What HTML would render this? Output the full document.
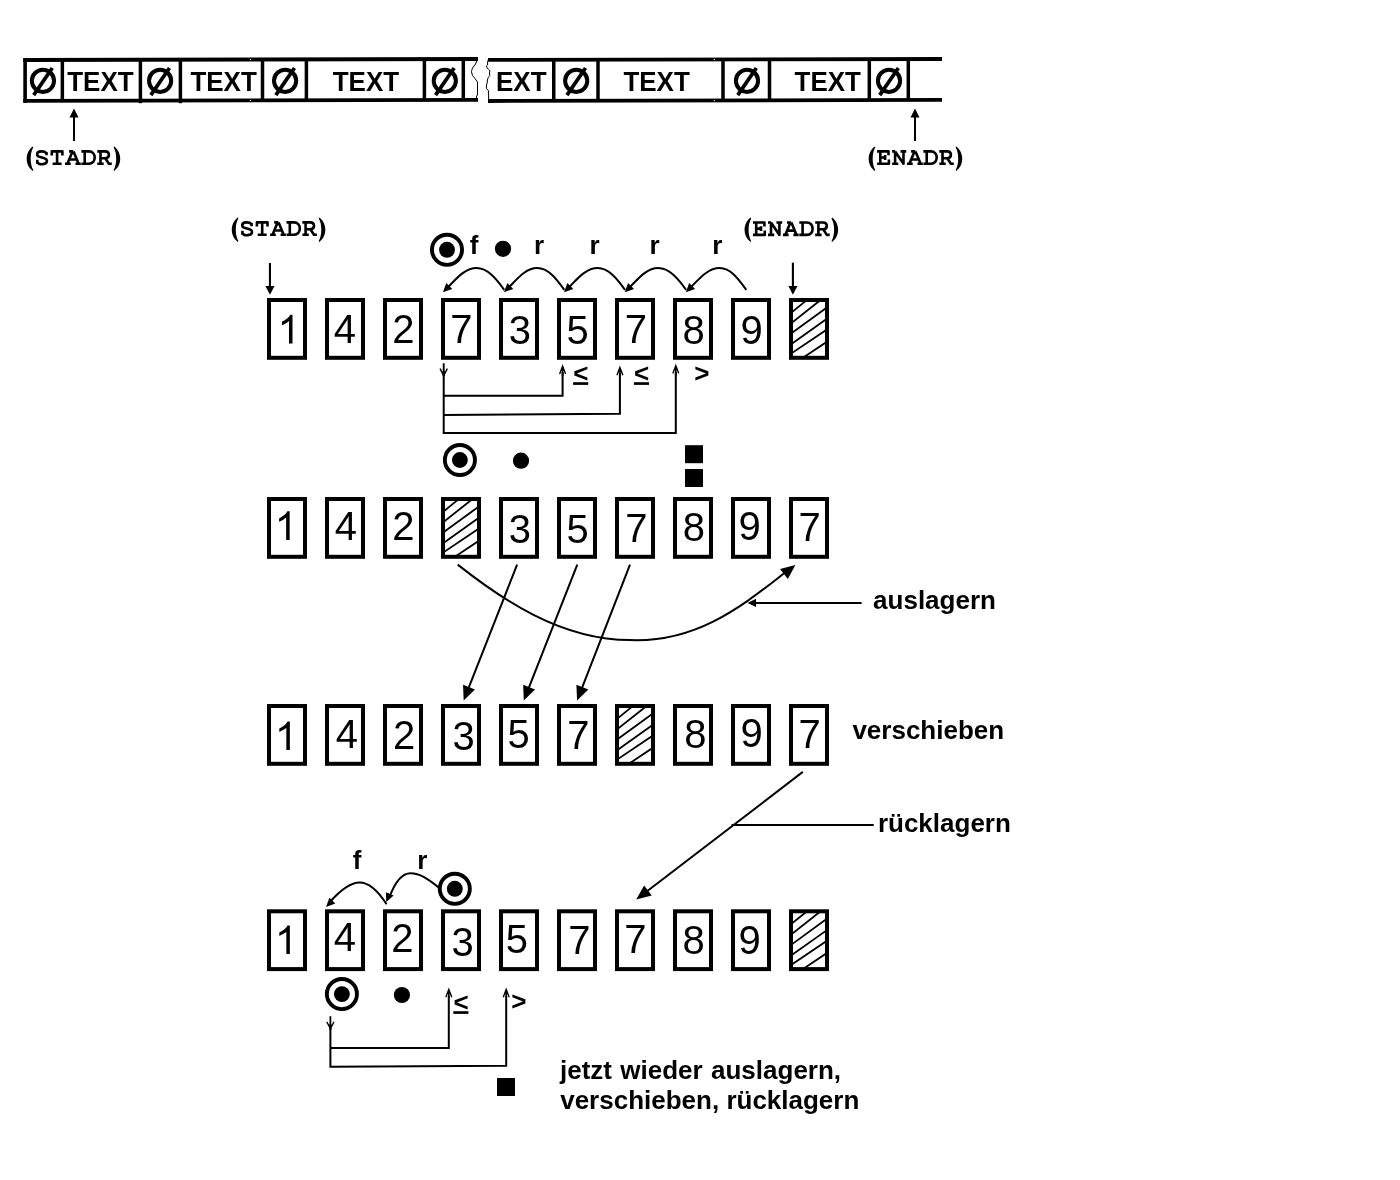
<!DOCTYPE html>
<html><head><meta charset="utf-8"><title>diagram</title>
<style>html,body{margin:0;padding:0;background:#fff;}svg{display:block;will-change:transform;}text{fill:#000;}</style></head>
<body>
<svg width="1400" height="1180" viewBox="0 0 1400 1180">
<rect width="1400" height="1180" fill="#fff"/>
<polygon points="23.30,58.05 478.00,56.90 478.00,61.10 23.30,61.90" fill="#000"/>
<polygon points="23.30,98.90 478.00,98.00 478.00,101.80 23.30,102.70" fill="#000"/>
<polygon points="23.30,58.60 23.90,58.05 26.90,58.05 26.90,102.70 23.30,102.70" fill="#000"/>
<line x1="62.35" y1="59.00" x2="62.35" y2="101.00" stroke="#000" stroke-width="3.5" />
<line x1="140.40" y1="59.00" x2="140.40" y2="103.20" stroke="#000" stroke-width="3.5" />
<line x1="180.40" y1="59.00" x2="180.40" y2="103.20" stroke="#000" stroke-width="3.5" />
<line x1="262.50" y1="59.00" x2="262.50" y2="101.00" stroke="#000" stroke-width="3.5" />
<line x1="306.40" y1="59.00" x2="306.40" y2="101.00" stroke="#000" stroke-width="3.5" />
<line x1="424.40" y1="59.00" x2="424.40" y2="101.00" stroke="#000" stroke-width="3.5" />
<line x1="463.30" y1="59.00" x2="463.30" y2="101.00" stroke="#000" stroke-width="3.5" />
<path d="M477.3,60 L475.5,64 L472.5,68 L471.4,71.5 L472.5,75.5 L475,78.5 L477.5,82 L477.5,95 L476.5,96 L476.5,98" stroke="#000" stroke-width="1" fill="none" />
<path d="M488.2,60 L487.6,62 L487.6,65 L486.4,66 L487.2,68 L488.6,69.5 L490,70.8 L489.4,73 L489.8,75.4 L488.3,77.5 L487.4,80 L487.2,83 L486.4,85 L486.4,88.6 L488.6,90.7 L488.6,101" stroke="#000" stroke-width="1" fill="none" />
<polygon points="488.00,58.00 942.00,57.00 942.00,60.90 488.00,61.80" fill="#000"/>
<polygon points="488.00,99.10 942.00,98.00 942.00,101.80 488.00,102.90" fill="#000"/>
<line x1="553.75" y1="59.00" x2="553.75" y2="101.00" stroke="#000" stroke-width="3.5" />
<line x1="598.00" y1="59.00" x2="598.00" y2="101.00" stroke="#000" stroke-width="3.5" />
<line x1="723.00" y1="59.00" x2="723.00" y2="101.00" stroke="#000" stroke-width="3.5" />
<line x1="769.50" y1="59.00" x2="769.50" y2="101.00" stroke="#000" stroke-width="3.5" />
<line x1="869.30" y1="59.00" x2="869.30" y2="101.00" stroke="#000" stroke-width="3.5" />
<line x1="908.30" y1="59.00" x2="908.30" y2="101.00" stroke="#000" stroke-width="3.5" />
<circle cx="42.95" cy="80.85" r="11.1" fill="none" stroke="#000" stroke-width="4"/>
<line x1="33.70" y1="95.10" x2="52.30" y2="68.00" stroke="#000" stroke-width="3.7" />
<circle cx="160.1" cy="80.85" r="11.1" fill="none" stroke="#000" stroke-width="4"/>
<line x1="150.85" y1="95.10" x2="169.45" y2="68.00" stroke="#000" stroke-width="3.7" />
<circle cx="285.1" cy="80.85" r="11.1" fill="none" stroke="#000" stroke-width="4"/>
<line x1="275.85" y1="95.10" x2="294.45" y2="68.00" stroke="#000" stroke-width="3.7" />
<circle cx="444.8" cy="80.85" r="11.1" fill="none" stroke="#000" stroke-width="4"/>
<line x1="435.55" y1="95.10" x2="454.15" y2="68.00" stroke="#000" stroke-width="3.7" />
<circle cx="576.2" cy="80.85" r="11.1" fill="none" stroke="#000" stroke-width="4"/>
<line x1="566.95" y1="95.10" x2="585.55" y2="68.00" stroke="#000" stroke-width="3.7" />
<circle cx="747.0" cy="80.85" r="11.1" fill="none" stroke="#000" stroke-width="4"/>
<line x1="737.75" y1="95.10" x2="756.35" y2="68.00" stroke="#000" stroke-width="3.7" />
<circle cx="889.0" cy="80.85" r="11.1" fill="none" stroke="#000" stroke-width="4"/>
<line x1="879.75" y1="95.10" x2="898.35" y2="68.00" stroke="#000" stroke-width="3.7" />
<text transform="translate(100.40,90.50) scale(1,1.035)" font-family='"Liberation Sans", sans-serif' font-size="26" font-weight="bold" text-anchor="middle" >TEXT</text>
<text transform="translate(223.60,90.50) scale(1,1.035)" font-family='"Liberation Sans", sans-serif' font-size="26" font-weight="bold" text-anchor="middle" >TEXT</text>
<text transform="translate(365.90,90.50) scale(1,1.035)" font-family='"Liberation Sans", sans-serif' font-size="26" font-weight="bold" text-anchor="middle" >TEXT</text>
<text transform="translate(521.25,90.50) scale(1,1.035)" font-family='"Liberation Sans", sans-serif' font-size="26" font-weight="bold" text-anchor="middle" >EXT</text>
<text transform="translate(656.60,90.50) scale(1,1.035)" font-family='"Liberation Sans", sans-serif' font-size="26" font-weight="bold" text-anchor="middle" >TEXT</text>
<text transform="translate(827.75,90.50) scale(1,1.035)" font-family='"Liberation Sans", sans-serif' font-size="26" font-weight="bold" text-anchor="middle" >TEXT</text>
<circle cx="250.5" cy="59.5" r="0.6" fill="#fff"/>
<circle cx="250.5" cy="100.4" r="0.6" fill="#fff"/>
<circle cx="714.3" cy="59.4" r="0.6" fill="#fff"/>
<circle cx="714.3" cy="100.7" r="0.6" fill="#fff"/>
<line x1="74.00" y1="141.00" x2="74.00" y2="116.00" stroke="#000" stroke-width="2" />
<polygon points="74.00,108.60 78.50,117.50 69.50,117.50" fill="#000"/>
<line x1="915.00" y1="141.00" x2="915.00" y2="116.00" stroke="#000" stroke-width="2" />
<polygon points="915.00,108.60 919.50,117.50 910.50,117.50" fill="#000"/>
<path d="M6.0,-18.6 C1.6,-15.2 0,-10.6 0,-6.4 C0,-2.2 1.6,2.4 6.0,5.8 L6.6,5.0 C4.6,1.6 4.0,-2.6 4.0,-6.4 C4.0,-10.2 4.6,-14.4 6.6,-17.8 Z" transform="translate(26.70,165.10)" fill="#000"/>
<path d="M6.0,-18.6 C1.6,-15.2 0,-10.6 0,-6.4 C0,-2.2 1.6,2.4 6.0,5.8 L6.6,5.0 C4.6,1.6 4.0,-2.6 4.0,-6.4 C4.0,-10.2 4.6,-14.4 6.6,-17.8 Z" transform="translate(120.20,165.10) scale(-1,1)" fill="#000"/>
<path d="M5.0,-9.8 L5.0,-13.2 M4.8,-12.0 C3,-14.2 -4.4,-14.8 -4.4,-10.6 C-4.4,-6.4 5.4,-8.8 5.4,-4.2 C5.4,0 -2.6,-0.2 -4.0,-2.8 M-4.2,-5.4 L-4.2,-1.4" transform="translate(41.50,165.10)" fill="none" stroke="#000" stroke-width="2.6" stroke-linejoin="round" stroke-linecap="butt"/>
<path d="M-5.3,-9.6 L-5.3,-13.7 L5.3,-13.7 L5.3,-9.6 M0,-13.7 L0,-1.3 M-4.5,-1.3 L4.5,-1.3" transform="translate(57.10,165.10)" fill="none" stroke="#000" stroke-width="2.6" stroke-linejoin="round" stroke-linecap="butt"/>
<path d="M-3.6,-13.7 L0.6,-13.7 M-0.2,-13.7 L-5.3,-1.3 M0.8,-13.7 L5.9,-1.3 M-7.7,-1.3 L-2.0,-1.3 M2.8,-1.3 L8.1,-1.3 M-3.4,-5.6 L4.0,-5.6" transform="translate(72.70,165.10)" fill="none" stroke="#000" stroke-width="2.6" stroke-linejoin="round" stroke-linecap="butt"/>
<path d="M-3.6,-13.7 L-3.6,-1.3 M-6.9,-13.7 L0.5,-13.7 C4.5,-13.7 6.4,-10.8 6.4,-7.5 C6.4,-4.2 4.5,-1.3 0.5,-1.3 L-6.9,-1.3" transform="translate(88.30,165.10)" fill="none" stroke="#000" stroke-width="2.6" stroke-linejoin="round" stroke-linecap="butt"/>
<path d="M-3.4,-13.7 L-3.4,-1.3 M-6.6,-13.7 L1.2,-13.7 C4.0,-13.7 5.0,-11.8 5.0,-10.3 C5.0,-8.6 3.8,-6.9 1.2,-6.9 L-3.4,-6.9 M1.4,-6.9 L5.0,-1.3 L7.9,-1.3 M-6.6,-1.3 L-0.2,-1.3" transform="translate(103.90,165.10)" fill="none" stroke="#000" stroke-width="2.6" stroke-linejoin="round" stroke-linecap="butt"/>
<path d="M6.0,-18.6 C1.6,-15.2 0,-10.6 0,-6.4 C0,-2.2 1.6,2.4 6.0,5.8 L6.6,5.0 C4.6,1.6 4.0,-2.6 4.0,-6.4 C4.0,-10.2 4.6,-14.4 6.6,-17.8 Z" transform="translate(868.70,165.10)" fill="#000"/>
<path d="M6.0,-18.6 C1.6,-15.2 0,-10.6 0,-6.4 C0,-2.2 1.6,2.4 6.0,5.8 L6.6,5.0 C4.6,1.6 4.0,-2.6 4.0,-6.4 C4.0,-10.2 4.6,-14.4 6.6,-17.8 Z" transform="translate(962.20,165.10) scale(-1,1)" fill="#000"/>
<path d="M-3.2,-13.7 L-3.2,-1.3 M-6.4,-13.7 L5.0,-13.7 L5.0,-9.8 M-3.2,-7.6 L1.6,-7.6 M1.6,-10 L1.6,-5.2 M-6.4,-1.3 L5.4,-1.3 L5.4,-5.6" transform="translate(883.50,165.10)" fill="none" stroke="#000" stroke-width="2.6" stroke-linejoin="round" stroke-linecap="butt"/>
<path d="M-4.0,-13.7 L-4.0,-1.3 M4.4,-13.7 L4.4,-1.3 L-4.0,-13.7 M-7.0,-13.7 L-4.0,-13.7 M-7.0,-1.3 L-0.8,-1.3 M1.4,-13.7 L7.2,-13.7" transform="translate(899.10,165.10)" fill="none" stroke="#000" stroke-width="2.6" stroke-linejoin="round" stroke-linecap="butt"/>
<path d="M-3.6,-13.7 L0.6,-13.7 M-0.2,-13.7 L-5.3,-1.3 M0.8,-13.7 L5.9,-1.3 M-7.7,-1.3 L-2.0,-1.3 M2.8,-1.3 L8.1,-1.3 M-3.4,-5.6 L4.0,-5.6" transform="translate(914.70,165.10)" fill="none" stroke="#000" stroke-width="2.6" stroke-linejoin="round" stroke-linecap="butt"/>
<path d="M-3.6,-13.7 L-3.6,-1.3 M-6.9,-13.7 L0.5,-13.7 C4.5,-13.7 6.4,-10.8 6.4,-7.5 C6.4,-4.2 4.5,-1.3 0.5,-1.3 L-6.9,-1.3" transform="translate(930.30,165.10)" fill="none" stroke="#000" stroke-width="2.6" stroke-linejoin="round" stroke-linecap="butt"/>
<path d="M-3.4,-13.7 L-3.4,-1.3 M-6.6,-13.7 L1.2,-13.7 C4.0,-13.7 5.0,-11.8 5.0,-10.3 C5.0,-8.6 3.8,-6.9 1.2,-6.9 L-3.4,-6.9 M1.4,-6.9 L5.0,-1.3 L7.9,-1.3 M-6.6,-1.3 L-0.2,-1.3" transform="translate(945.90,165.10)" fill="none" stroke="#000" stroke-width="2.6" stroke-linejoin="round" stroke-linecap="butt"/>
<path d="M6.0,-18.6 C1.6,-15.2 0,-10.6 0,-6.4 C0,-2.2 1.6,2.4 6.0,5.8 L6.6,5.0 C4.6,1.6 4.0,-2.6 4.0,-6.4 C4.0,-10.2 4.6,-14.4 6.6,-17.8 Z" transform="translate(231.80,236.10)" fill="#000"/>
<path d="M6.0,-18.6 C1.6,-15.2 0,-10.6 0,-6.4 C0,-2.2 1.6,2.4 6.0,5.8 L6.6,5.0 C4.6,1.6 4.0,-2.6 4.0,-6.4 C4.0,-10.2 4.6,-14.4 6.6,-17.8 Z" transform="translate(325.30,236.10) scale(-1,1)" fill="#000"/>
<path d="M5.0,-9.8 L5.0,-13.2 M4.8,-12.0 C3,-14.2 -4.4,-14.8 -4.4,-10.6 C-4.4,-6.4 5.4,-8.8 5.4,-4.2 C5.4,0 -2.6,-0.2 -4.0,-2.8 M-4.2,-5.4 L-4.2,-1.4" transform="translate(246.60,236.10)" fill="none" stroke="#000" stroke-width="2.6" stroke-linejoin="round" stroke-linecap="butt"/>
<path d="M-5.3,-9.6 L-5.3,-13.7 L5.3,-13.7 L5.3,-9.6 M0,-13.7 L0,-1.3 M-4.5,-1.3 L4.5,-1.3" transform="translate(262.20,236.10)" fill="none" stroke="#000" stroke-width="2.6" stroke-linejoin="round" stroke-linecap="butt"/>
<path d="M-3.6,-13.7 L0.6,-13.7 M-0.2,-13.7 L-5.3,-1.3 M0.8,-13.7 L5.9,-1.3 M-7.7,-1.3 L-2.0,-1.3 M2.8,-1.3 L8.1,-1.3 M-3.4,-5.6 L4.0,-5.6" transform="translate(277.80,236.10)" fill="none" stroke="#000" stroke-width="2.6" stroke-linejoin="round" stroke-linecap="butt"/>
<path d="M-3.6,-13.7 L-3.6,-1.3 M-6.9,-13.7 L0.5,-13.7 C4.5,-13.7 6.4,-10.8 6.4,-7.5 C6.4,-4.2 4.5,-1.3 0.5,-1.3 L-6.9,-1.3" transform="translate(293.40,236.10)" fill="none" stroke="#000" stroke-width="2.6" stroke-linejoin="round" stroke-linecap="butt"/>
<path d="M-3.4,-13.7 L-3.4,-1.3 M-6.6,-13.7 L1.2,-13.7 C4.0,-13.7 5.0,-11.8 5.0,-10.3 C5.0,-8.6 3.8,-6.9 1.2,-6.9 L-3.4,-6.9 M1.4,-6.9 L5.0,-1.3 L7.9,-1.3 M-6.6,-1.3 L-0.2,-1.3" transform="translate(309.00,236.10)" fill="none" stroke="#000" stroke-width="2.6" stroke-linejoin="round" stroke-linecap="butt"/>
<path d="M6.0,-18.6 C1.6,-15.2 0,-10.6 0,-6.4 C0,-2.2 1.6,2.4 6.0,5.8 L6.6,5.0 C4.6,1.6 4.0,-2.6 4.0,-6.4 C4.0,-10.2 4.6,-14.4 6.6,-17.8 Z" transform="translate(744.60,236.20)" fill="#000"/>
<path d="M6.0,-18.6 C1.6,-15.2 0,-10.6 0,-6.4 C0,-2.2 1.6,2.4 6.0,5.8 L6.6,5.0 C4.6,1.6 4.0,-2.6 4.0,-6.4 C4.0,-10.2 4.6,-14.4 6.6,-17.8 Z" transform="translate(838.10,236.20) scale(-1,1)" fill="#000"/>
<path d="M-3.2,-13.7 L-3.2,-1.3 M-6.4,-13.7 L5.0,-13.7 L5.0,-9.8 M-3.2,-7.6 L1.6,-7.6 M1.6,-10 L1.6,-5.2 M-6.4,-1.3 L5.4,-1.3 L5.4,-5.6" transform="translate(759.40,236.20)" fill="none" stroke="#000" stroke-width="2.6" stroke-linejoin="round" stroke-linecap="butt"/>
<path d="M-4.0,-13.7 L-4.0,-1.3 M4.4,-13.7 L4.4,-1.3 L-4.0,-13.7 M-7.0,-13.7 L-4.0,-13.7 M-7.0,-1.3 L-0.8,-1.3 M1.4,-13.7 L7.2,-13.7" transform="translate(775.00,236.20)" fill="none" stroke="#000" stroke-width="2.6" stroke-linejoin="round" stroke-linecap="butt"/>
<path d="M-3.6,-13.7 L0.6,-13.7 M-0.2,-13.7 L-5.3,-1.3 M0.8,-13.7 L5.9,-1.3 M-7.7,-1.3 L-2.0,-1.3 M2.8,-1.3 L8.1,-1.3 M-3.4,-5.6 L4.0,-5.6" transform="translate(790.60,236.20)" fill="none" stroke="#000" stroke-width="2.6" stroke-linejoin="round" stroke-linecap="butt"/>
<path d="M-3.6,-13.7 L-3.6,-1.3 M-6.9,-13.7 L0.5,-13.7 C4.5,-13.7 6.4,-10.8 6.4,-7.5 C6.4,-4.2 4.5,-1.3 0.5,-1.3 L-6.9,-1.3" transform="translate(806.20,236.20)" fill="none" stroke="#000" stroke-width="2.6" stroke-linejoin="round" stroke-linecap="butt"/>
<path d="M-3.4,-13.7 L-3.4,-1.3 M-6.6,-13.7 L1.2,-13.7 C4.0,-13.7 5.0,-11.8 5.0,-10.3 C5.0,-8.6 3.8,-6.9 1.2,-6.9 L-3.4,-6.9 M1.4,-6.9 L5.0,-1.3 L7.9,-1.3 M-6.6,-1.3 L-0.2,-1.3" transform="translate(821.80,236.20)" fill="none" stroke="#000" stroke-width="2.6" stroke-linejoin="round" stroke-linecap="butt"/>
<line x1="269.95" y1="263.00" x2="269.95" y2="288.00" stroke="#000" stroke-width="2.1" />
<polygon points="269.95,294.70 265.40,286.10 274.50,286.10" fill="#000"/>
<line x1="792.90" y1="262.70" x2="792.90" y2="288.00" stroke="#000" stroke-width="2.1" />
<polygon points="792.90,294.70 788.35,286.10 797.45,286.10" fill="#000"/>
<circle cx="447" cy="249.8" r="15.05" fill="none" stroke="#000" stroke-width="3.9"/>
<circle cx="447" cy="249.8" r="7.95" fill="#000"/>
<text x="469.80" y="253.80" font-family='"Liberation Sans", sans-serif' font-size="26" font-weight="bold" text-anchor="start" >f</text>
<circle cx="503" cy="248.8" r="8.1" fill="#000"/>
<text x="533.90" y="253.90" font-family='"Liberation Sans", sans-serif' font-size="26" font-weight="bold" text-anchor="start" >r</text>
<text x="589.50" y="253.90" font-family='"Liberation Sans", sans-serif' font-size="26" font-weight="bold" text-anchor="start" >r</text>
<text x="649.60" y="253.90" font-family='"Liberation Sans", sans-serif' font-size="26" font-weight="bold" text-anchor="start" >r</text>
<text x="712.20" y="253.90" font-family='"Liberation Sans", sans-serif' font-size="26" font-weight="bold" text-anchor="start" >r</text>
<path d="M504.20,289.80 C496.20,278.80 487.60,268.10 476.60,268.10 C464.60,268.10 455.90,279.30 446.90,288.30" stroke="#000" stroke-width="2" fill="none" />
<polygon points="442.90,292.30 446.29,282.97 452.23,288.91" fill="#000"/>
<path d="M564.30,289.80 C556.30,278.80 548.20,268.10 537.20,268.10 C525.20,268.10 516.95,279.30 507.95,288.30" stroke="#000" stroke-width="2" fill="none" />
<polygon points="503.95,292.30 507.34,282.97 513.28,288.91" fill="#000"/>
<path d="M625.00,289.80 C617.00,278.80 608.60,268.10 597.60,268.10 C585.60,268.10 577.00,279.30 568.00,288.30" stroke="#000" stroke-width="2" fill="none" />
<polygon points="564.00,292.30 567.39,282.97 573.33,288.91" fill="#000"/>
<path d="M686.10,289.80 C678.10,278.80 669.20,268.10 658.20,268.10 C646.20,268.10 637.70,279.30 628.70,288.30" stroke="#000" stroke-width="2" fill="none" />
<polygon points="624.70,292.30 628.09,282.97 634.03,288.91" fill="#000"/>
<path d="M746.30,289.80 C738.30,278.80 730.60,268.10 719.60,268.10 C707.60,268.10 698.80,279.30 689.80,288.30" stroke="#000" stroke-width="2" fill="none" />
<polygon points="685.80,292.30 689.19,282.97 695.13,288.91" fill="#000"/>
<rect x="269.00" y="300.00" width="36.00" height="57.80" fill="#fff" stroke="#000" stroke-width="4"/>
<path d="M14.9,0 H11.39 V-22.4 Q10.12,-21.19 8.06,-19.98 T4.36,-18.16 V-21.56 Q7.29,-22.94 9.48,-24.9 T12.6,-28.71 H14.9 Z" transform="translate(277.60,343.40)" fill="#000"/>
<rect x="327.00" y="300.00" width="36.00" height="57.80" fill="#fff" stroke="#000" stroke-width="4"/>
<text transform="translate(345.00,343.30) scale(1,1.036)" font-family='"Liberation Sans", sans-serif' font-size="40" font-weight="normal" text-anchor="middle" >4</text>
<rect x="385.00" y="300.00" width="36.00" height="57.80" fill="#fff" stroke="#000" stroke-width="4"/>
<text transform="translate(403.50,343.30) scale(1,1.036)" font-family='"Liberation Sans", sans-serif' font-size="40" font-weight="normal" text-anchor="middle" >2</text>
<rect x="443.00" y="300.00" width="36.00" height="57.80" fill="#fff" stroke="#000" stroke-width="4"/>
<text transform="translate(461.50,343.30) scale(1,1.036)" font-family='"Liberation Sans", sans-serif' font-size="40" font-weight="normal" text-anchor="middle" >7</text>
<rect x="501.00" y="300.00" width="36.00" height="57.80" fill="#fff" stroke="#000" stroke-width="4"/>
<text transform="translate(520.00,344.20) scale(1,1.036)" font-family='"Liberation Sans", sans-serif' font-size="40" font-weight="normal" text-anchor="middle" >3</text>
<rect x="559.00" y="300.00" width="36.00" height="57.80" fill="#fff" stroke="#000" stroke-width="4"/>
<text transform="translate(577.70,344.20) scale(1,1.036)" font-family='"Liberation Sans", sans-serif' font-size="40" font-weight="normal" text-anchor="middle" >5</text>
<rect x="617.00" y="300.00" width="36.00" height="57.80" fill="#fff" stroke="#000" stroke-width="4"/>
<text transform="translate(635.90,343.30) scale(1,1.036)" font-family='"Liberation Sans", sans-serif' font-size="40" font-weight="normal" text-anchor="middle" >7</text>
<rect x="675.00" y="300.00" width="36.00" height="57.80" fill="#fff" stroke="#000" stroke-width="4"/>
<text transform="translate(693.70,344.20) scale(1,1.036)" font-family='"Liberation Sans", sans-serif' font-size="40" font-weight="normal" text-anchor="middle" >8</text>
<rect x="733.00" y="300.00" width="36.00" height="57.80" fill="#fff" stroke="#000" stroke-width="4"/>
<text transform="translate(751.60,344.20) scale(1,1.036)" font-family='"Liberation Sans", sans-serif' font-size="40" font-weight="normal" text-anchor="middle" >9</text>
<rect x="791.00" y="300.00" width="36.00" height="57.80" fill="#fff" stroke="#000" stroke-width="4"/>
<clipPath id="hc1"><rect x="792.50" y="301.50" width="33.00" height="54.80"/></clipPath>
<g clip-path="url(#hc1)">
<line x1="790.57" y1="313.29" x2="806.43" y2="300.41" stroke="#000" stroke-width="1.8" />
<line x1="790.55" y1="323.76" x2="819.95" y2="300.44" stroke="#000" stroke-width="1.8" />
<line x1="790.48" y1="334.07" x2="827.52" y2="306.93" stroke="#000" stroke-width="1.8" />
<line x1="790.45" y1="344.63" x2="827.55" y2="318.37" stroke="#000" stroke-width="1.8" />
<line x1="790.41" y1="354.08" x2="827.59" y2="329.02" stroke="#000" stroke-width="1.8" />
<line x1="802.61" y1="357.97" x2="827.59" y2="341.23" stroke="#000" stroke-width="1.8" />
</g>
<line x1="443.70" y1="363.30" x2="443.70" y2="376.00" stroke="#000" stroke-width="1.9" />
<path d="M440.30,369.10 L443.70,375.70 L447.10,369.10" stroke="#000" stroke-width="1.4" fill="none" stroke-linecap="round"/>
<polygon points="443.70,375.70 442.00,371.30 445.40,371.30" fill="#000"/>
<path d="M443.7,374 L443.7,432.9 L675.8,432.9 L675.8,372" stroke="#000" stroke-width="2" fill="none" />
<path d="M443.7,395.8 L562.6,395.8 L562.6,372" stroke="#000" stroke-width="2" fill="none" />
<path d="M443.7,414.9 L619.9,413.8 L619.9,373" stroke="#000" stroke-width="2" fill="none" />
<line x1="562.60" y1="367.50" x2="562.60" y2="376.00" stroke="#000" stroke-width="1.7" />
<path d="M565.40,373.60 L562.60,366.30 L559.80,373.60" stroke="#000" stroke-width="1.4" fill="none" stroke-linecap="round"/>
<polygon points="562.60,366.30 564.30,370.70 560.90,370.70" fill="#000"/>
<line x1="619.90" y1="368.60" x2="619.90" y2="376.00" stroke="#000" stroke-width="1.7" />
<path d="M622.70,374.70 L619.90,367.40 L617.10,374.70" stroke="#000" stroke-width="1.4" fill="none" stroke-linecap="round"/>
<polygon points="619.90,367.40 621.60,371.80 618.20,371.80" fill="#000"/>
<line x1="675.80" y1="366.80" x2="675.80" y2="376.00" stroke="#000" stroke-width="1.7" />
<path d="M678.60,372.90 L675.80,365.60 L673.00,372.90" stroke="#000" stroke-width="1.4" fill="none" stroke-linecap="round"/>
<polygon points="675.80,365.60 677.50,370.00 674.10,370.00" fill="#000"/>
<text x="573.20" y="381.65" font-family='"Liberation Sans", sans-serif' font-size="26" font-weight="bold" text-anchor="start" >&lt;</text>
<rect x="573.10" y="382.20" width="15.1" height="2.7" fill="#000"/>
<text x="634.00" y="381.65" font-family='"Liberation Sans", sans-serif' font-size="26" font-weight="bold" text-anchor="start" >&lt;</text>
<rect x="633.90" y="382.20" width="15.1" height="2.7" fill="#000"/>
<text x="694.30" y="381.75" font-family='"Liberation Sans", sans-serif' font-size="26" font-weight="bold" text-anchor="start" >&gt;</text>
<circle cx="459.9" cy="460" r="15.05" fill="none" stroke="#000" stroke-width="3.9"/>
<circle cx="459.9" cy="460" r="7.95" fill="#000"/>
<circle cx="521" cy="460.7" r="8.1" fill="#000"/>
<rect x="685" y="445.2" width="18" height="18" fill="#000"/>
<rect x="685" y="469" width="18" height="18" fill="#000"/>
<rect x="269.00" y="499.00" width="36.00" height="57.80" fill="#fff" stroke="#000" stroke-width="4"/>
<path d="M14.9,0 H11.39 V-22.4 Q10.12,-21.19 8.06,-19.98 T4.36,-18.16 V-21.56 Q7.29,-22.94 9.48,-24.9 T12.6,-28.71 H14.9 Z" transform="translate(274.75,540.00)" fill="#000"/>
<rect x="327.00" y="499.00" width="36.00" height="57.80" fill="#fff" stroke="#000" stroke-width="4"/>
<text transform="translate(345.90,539.90) scale(1,1.036)" font-family='"Liberation Sans", sans-serif' font-size="40" font-weight="normal" text-anchor="middle" >4</text>
<rect x="385.00" y="499.00" width="36.00" height="57.80" fill="#fff" stroke="#000" stroke-width="4"/>
<text transform="translate(403.40,539.90) scale(1,1.036)" font-family='"Liberation Sans", sans-serif' font-size="40" font-weight="normal" text-anchor="middle" >2</text>
<rect x="443.00" y="499.00" width="36.00" height="57.80" fill="#fff" stroke="#000" stroke-width="4"/>
<clipPath id="hc2"><rect x="444.50" y="500.50" width="33.00" height="54.80"/></clipPath>
<g clip-path="url(#hc2)">
<line x1="442.57" y1="512.29" x2="458.43" y2="499.41" stroke="#000" stroke-width="1.8" />
<line x1="442.55" y1="522.76" x2="471.95" y2="499.44" stroke="#000" stroke-width="1.8" />
<line x1="442.48" y1="533.07" x2="479.52" y2="505.93" stroke="#000" stroke-width="1.8" />
<line x1="442.45" y1="543.63" x2="479.55" y2="517.37" stroke="#000" stroke-width="1.8" />
<line x1="442.41" y1="553.08" x2="479.59" y2="528.02" stroke="#000" stroke-width="1.8" />
<line x1="454.61" y1="556.97" x2="479.59" y2="540.23" stroke="#000" stroke-width="1.8" />
</g>
<rect x="501.00" y="499.00" width="36.00" height="57.80" fill="#fff" stroke="#000" stroke-width="4"/>
<text transform="translate(519.80,543.30) scale(1,1.036)" font-family='"Liberation Sans", sans-serif' font-size="40" font-weight="normal" text-anchor="middle" >3</text>
<rect x="559.00" y="499.00" width="36.00" height="57.80" fill="#fff" stroke="#000" stroke-width="4"/>
<text transform="translate(577.70,542.80) scale(1,1.036)" font-family='"Liberation Sans", sans-serif' font-size="40" font-weight="normal" text-anchor="middle" >5</text>
<rect x="617.00" y="499.00" width="36.00" height="57.80" fill="#fff" stroke="#000" stroke-width="4"/>
<text transform="translate(636.40,541.70) scale(1,1.036)" font-family='"Liberation Sans", sans-serif' font-size="40" font-weight="normal" text-anchor="middle" >7</text>
<rect x="675.00" y="499.00" width="36.00" height="57.80" fill="#fff" stroke="#000" stroke-width="4"/>
<text transform="translate(693.90,540.80) scale(1,1.036)" font-family='"Liberation Sans", sans-serif' font-size="40" font-weight="normal" text-anchor="middle" >8</text>
<rect x="733.00" y="499.00" width="36.00" height="57.80" fill="#fff" stroke="#000" stroke-width="4"/>
<text transform="translate(749.60,540.40) scale(1,1.036)" font-family='"Liberation Sans", sans-serif' font-size="40" font-weight="normal" text-anchor="middle" >9</text>
<rect x="791.00" y="499.00" width="36.00" height="57.80" fill="#fff" stroke="#000" stroke-width="4"/>
<text transform="translate(809.70,540.90) scale(1,1.036)" font-family='"Liberation Sans", sans-serif' font-size="40" font-weight="normal" text-anchor="middle" >7</text>
<line x1="517.10" y1="564.60" x2="468.27" y2="688.96" stroke="#000" stroke-width="2" />
<polygon points="463.70,700.60 463.04,684.76 474.96,689.44" fill="#000"/>
<line x1="577.30" y1="564.60" x2="528.38" y2="688.97" stroke="#000" stroke-width="2" />
<polygon points="523.80,700.60 523.15,684.76 535.06,689.45" fill="#000"/>
<line x1="630.00" y1="564.60" x2="581.63" y2="688.95" stroke="#000" stroke-width="2" />
<polygon points="577.10,700.60 576.39,684.77 588.32,689.41" fill="#000"/>
<path d="M457.7,564.6 C500,598 560,640 630,640 C700,643 748,601 786.5,571.5" stroke="#000" stroke-width="2" fill="none" />
<polygon points="795.40,565.00 787.82,578.88 780.09,568.93" fill="#000"/>
<line x1="861.60" y1="602.90" x2="754.00" y2="602.90" stroke="#000" stroke-width="2" />
<polygon points="747.60,602.90 756.00,598.80 756.00,607.00" fill="#000"/>
<text x="873.10" y="609.10" font-family='"Liberation Sans", sans-serif' font-size="26" font-weight="bold" text-anchor="start" >auslagern</text>
<rect x="269.00" y="706.00" width="36.00" height="57.80" fill="#fff" stroke="#000" stroke-width="4"/>
<path d="M14.9,0 H11.39 V-22.4 Q10.12,-21.19 8.06,-19.98 T4.36,-18.16 V-21.56 Q7.29,-22.94 9.48,-24.9 T12.6,-28.71 H14.9 Z" transform="translate(274.95,750.10)" fill="#000"/>
<rect x="327.00" y="706.00" width="36.00" height="57.80" fill="#fff" stroke="#000" stroke-width="4"/>
<text transform="translate(346.80,747.60) scale(1,1.036)" font-family='"Liberation Sans", sans-serif' font-size="40" font-weight="normal" text-anchor="middle" >4</text>
<rect x="385.00" y="706.00" width="36.00" height="57.80" fill="#fff" stroke="#000" stroke-width="4"/>
<text transform="translate(404.10,748.70) scale(1,1.036)" font-family='"Liberation Sans", sans-serif' font-size="40" font-weight="normal" text-anchor="middle" >2</text>
<rect x="443.00" y="706.00" width="36.00" height="57.80" fill="#fff" stroke="#000" stroke-width="4"/>
<text transform="translate(463.70,750.40) scale(1,1.036)" font-family='"Liberation Sans", sans-serif' font-size="40" font-weight="normal" text-anchor="middle" >3</text>
<rect x="501.00" y="706.00" width="36.00" height="57.80" fill="#fff" stroke="#000" stroke-width="4"/>
<text transform="translate(518.60,748.30) scale(1,1.036)" font-family='"Liberation Sans", sans-serif' font-size="40" font-weight="normal" text-anchor="middle" >5</text>
<rect x="559.00" y="706.00" width="36.00" height="57.80" fill="#fff" stroke="#000" stroke-width="4"/>
<text transform="translate(578.40,748.70) scale(1,1.036)" font-family='"Liberation Sans", sans-serif' font-size="40" font-weight="normal" text-anchor="middle" >7</text>
<rect x="617.00" y="706.00" width="36.00" height="57.80" fill="#fff" stroke="#000" stroke-width="4"/>
<clipPath id="hc3"><rect x="618.50" y="707.50" width="33.00" height="54.80"/></clipPath>
<g clip-path="url(#hc3)">
<line x1="616.57" y1="719.29" x2="632.43" y2="706.41" stroke="#000" stroke-width="1.8" />
<line x1="616.55" y1="729.76" x2="645.95" y2="706.44" stroke="#000" stroke-width="1.8" />
<line x1="616.48" y1="740.07" x2="653.52" y2="712.93" stroke="#000" stroke-width="1.8" />
<line x1="616.45" y1="750.63" x2="653.55" y2="724.37" stroke="#000" stroke-width="1.8" />
<line x1="616.41" y1="760.08" x2="653.59" y2="735.02" stroke="#000" stroke-width="1.8" />
<line x1="628.61" y1="763.97" x2="653.59" y2="747.23" stroke="#000" stroke-width="1.8" />
</g>
<rect x="675.00" y="706.00" width="36.00" height="57.80" fill="#fff" stroke="#000" stroke-width="4"/>
<text transform="translate(695.50,748.00) scale(1,1.036)" font-family='"Liberation Sans", sans-serif' font-size="40" font-weight="normal" text-anchor="middle" >8</text>
<rect x="733.00" y="706.00" width="36.00" height="57.80" fill="#fff" stroke="#000" stroke-width="4"/>
<text transform="translate(751.70,747.10) scale(1,1.036)" font-family='"Liberation Sans", sans-serif' font-size="40" font-weight="normal" text-anchor="middle" >9</text>
<rect x="791.00" y="706.00" width="36.00" height="57.80" fill="#fff" stroke="#000" stroke-width="4"/>
<text transform="translate(809.70,748.10) scale(1,1.036)" font-family='"Liberation Sans", sans-serif' font-size="40" font-weight="normal" text-anchor="middle" >7</text>
<text x="852.40" y="739.20" font-family='"Liberation Sans", sans-serif' font-size="26" font-weight="bold" text-anchor="start" >verschieben</text>
<line x1="802.80" y1="771.90" x2="646.36" y2="891.81" stroke="#000" stroke-width="2" />
<polygon points="636.20,899.60 644.11,885.60 651.78,895.60" fill="#000"/>
<line x1="731.50" y1="825.00" x2="873.70" y2="825.00" stroke="#000" stroke-width="2" />
<text x="877.90" y="832.20" font-family='"Liberation Sans", sans-serif' font-size="26" font-weight="bold" text-anchor="start" >rücklagern</text>
<text x="352.80" y="868.90" font-family='"Liberation Sans", sans-serif' font-size="26" font-weight="bold" text-anchor="start" >f</text>
<text x="417.20" y="868.90" font-family='"Liberation Sans", sans-serif' font-size="26" font-weight="bold" text-anchor="start" >r</text>
<circle cx="454.8" cy="888.8" r="15.05" fill="none" stroke="#000" stroke-width="3.9"/>
<circle cx="454.8" cy="888.8" r="7.95" fill="#000"/>
<path d="M438.2,887.1 C428,879 420,873.3 410.5,873.3 C400,873.3 394,885 389.5,897" stroke="#000" stroke-width="2" fill="none" />
<polygon points="386.20,902.10 385.96,892.17 393.66,895.54" fill="#000"/>
<path d="M386.6,904.3 C378,891 368,882.6 359.6,882.6 C350,882.6 338,893 330,902" stroke="#000" stroke-width="2" fill="none" />
<polygon points="326.00,907.00 329.39,897.67 335.33,903.61" fill="#000"/>
<rect x="269.00" y="911.30" width="36.00" height="57.80" fill="#fff" stroke="#000" stroke-width="4"/>
<path d="M14.9,0 H11.39 V-22.4 Q10.12,-21.19 8.06,-19.98 T4.36,-18.16 V-21.56 Q7.29,-22.94 9.48,-24.9 T12.6,-28.71 H14.9 Z" transform="translate(274.95,954.10)" fill="#000"/>
<rect x="327.00" y="911.30" width="36.00" height="57.80" fill="#fff" stroke="#000" stroke-width="4"/>
<text transform="translate(345.00,950.80) scale(1,1.036)" font-family='"Liberation Sans", sans-serif' font-size="40" font-weight="normal" text-anchor="middle" >4</text>
<rect x="385.00" y="911.30" width="36.00" height="57.80" fill="#fff" stroke="#000" stroke-width="4"/>
<text transform="translate(402.40,952.30) scale(1,1.036)" font-family='"Liberation Sans", sans-serif' font-size="40" font-weight="normal" text-anchor="middle" >2</text>
<rect x="443.00" y="911.30" width="36.00" height="57.80" fill="#fff" stroke="#000" stroke-width="4"/>
<text transform="translate(462.70,955.60) scale(1,1.036)" font-family='"Liberation Sans", sans-serif' font-size="40" font-weight="normal" text-anchor="middle" >3</text>
<rect x="501.00" y="911.30" width="36.00" height="57.80" fill="#fff" stroke="#000" stroke-width="4"/>
<text transform="translate(516.80,953.10) scale(1,1.036)" font-family='"Liberation Sans", sans-serif' font-size="40" font-weight="normal" text-anchor="middle" >5</text>
<rect x="559.00" y="911.30" width="36.00" height="57.80" fill="#fff" stroke="#000" stroke-width="4"/>
<text transform="translate(579.50,954.40) scale(1,1.036)" font-family='"Liberation Sans", sans-serif' font-size="40" font-weight="normal" text-anchor="middle" >7</text>
<rect x="617.00" y="911.30" width="36.00" height="57.80" fill="#fff" stroke="#000" stroke-width="4"/>
<text transform="translate(635.50,952.50) scale(1,1.036)" font-family='"Liberation Sans", sans-serif' font-size="40" font-weight="normal" text-anchor="middle" >7</text>
<rect x="675.00" y="911.30" width="36.00" height="57.80" fill="#fff" stroke="#000" stroke-width="4"/>
<text transform="translate(693.70,954.20) scale(1,1.036)" font-family='"Liberation Sans", sans-serif' font-size="40" font-weight="normal" text-anchor="middle" >8</text>
<rect x="733.00" y="911.30" width="36.00" height="57.80" fill="#fff" stroke="#000" stroke-width="4"/>
<text transform="translate(749.60,954.10) scale(1,1.036)" font-family='"Liberation Sans", sans-serif' font-size="40" font-weight="normal" text-anchor="middle" >9</text>
<rect x="791.00" y="911.30" width="36.00" height="57.80" fill="#fff" stroke="#000" stroke-width="4"/>
<clipPath id="hc4"><rect x="792.50" y="912.80" width="33.00" height="54.80"/></clipPath>
<g clip-path="url(#hc4)">
<line x1="790.57" y1="924.59" x2="806.43" y2="911.71" stroke="#000" stroke-width="1.8" />
<line x1="790.55" y1="935.06" x2="819.95" y2="911.74" stroke="#000" stroke-width="1.8" />
<line x1="790.48" y1="945.37" x2="827.52" y2="918.23" stroke="#000" stroke-width="1.8" />
<line x1="790.45" y1="955.93" x2="827.55" y2="929.67" stroke="#000" stroke-width="1.8" />
<line x1="790.41" y1="965.38" x2="827.59" y2="940.32" stroke="#000" stroke-width="1.8" />
<line x1="802.61" y1="969.27" x2="827.59" y2="952.53" stroke="#000" stroke-width="1.8" />
</g>
<circle cx="341.9" cy="994.1" r="15.05" fill="none" stroke="#000" stroke-width="3.9"/>
<circle cx="341.9" cy="994.1" r="7.95" fill="#000"/>
<circle cx="401.9" cy="995.0" r="8.1" fill="#000"/>
<line x1="330.40" y1="1016.20" x2="330.40" y2="1030.00" stroke="#000" stroke-width="1.8" />
<path d="M327.00,1022.30 L330.40,1028.80 L333.80,1022.30" stroke="#000" stroke-width="1.4" fill="none" stroke-linecap="round"/>
<polygon points="330.40,1028.80 328.70,1024.40 332.10,1024.40" fill="#000"/>
<path d="M330.4,1028 L330.4,1066.7 L506.2,1065.8 L506.2,996" stroke="#000" stroke-width="2" fill="none" />
<path d="M330.4,1047.9 L448.8,1047.9 L448.8,996" stroke="#000" stroke-width="2" fill="none" />
<line x1="448.80" y1="990.60" x2="448.80" y2="998.00" stroke="#000" stroke-width="1.7" />
<path d="M451.60,996.70 L448.80,989.40 L446.00,996.70" stroke="#000" stroke-width="1.4" fill="none" stroke-linecap="round"/>
<polygon points="448.80,989.40 450.50,993.80 447.10,993.80" fill="#000"/>
<line x1="506.20" y1="990.60" x2="506.20" y2="998.00" stroke="#000" stroke-width="1.7" />
<path d="M509.00,996.70 L506.20,989.40 L503.40,996.70" stroke="#000" stroke-width="1.4" fill="none" stroke-linecap="round"/>
<polygon points="506.20,989.40 507.90,993.80 504.50,993.80" fill="#000"/>
<text x="453.40" y="1010.65" font-family='"Liberation Sans", sans-serif' font-size="26" font-weight="bold" text-anchor="start" >&lt;</text>
<rect x="453.30" y="1011.20" width="15.1" height="2.7" fill="#000"/>
<text x="511.20" y="1010.35" font-family='"Liberation Sans", sans-serif' font-size="26" font-weight="bold" text-anchor="start" >&gt;</text>
<rect x="497" y="1078" width="18" height="18" fill="#000"/>
<text x="560.00" y="1078.70" font-family='"Liberation Sans", sans-serif' font-size="26" font-weight="bold" text-anchor="start" word-spacing="1.1">jetzt wieder auslagern,</text>
<text x="560.20" y="1108.70" font-family='"Liberation Sans", sans-serif' font-size="26" font-weight="bold" text-anchor="start" >verschieben, rücklagern</text>
</svg>
</body></html>
